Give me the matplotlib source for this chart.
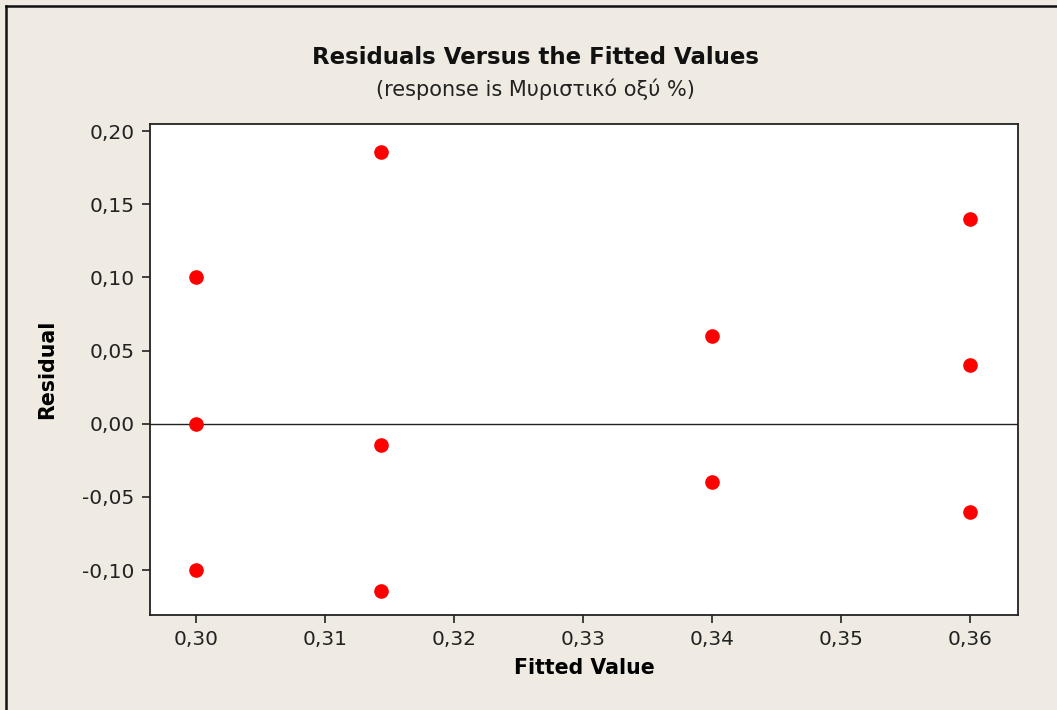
import matplotlib
matplotlib.use("Agg")
import matplotlib.pyplot as plt
from matplotlib.ticker import FixedLocator, FuncFormatter
from matplotlib.lines import Line2D

# fitted values and residuals per group
fitted = [0.30, 0.30, 0.30,
          0.3143, 0.3143, 0.3143,
          0.34, 0.34,
          0.36, 0.36, 0.36]
residual = [0.10, 0.00, -0.10,
            0.1857, -0.0143, -0.1143,
            0.06, -0.04,
            0.14, 0.04, -0.06]

x_ticks = [0.30, 0.31, 0.32, 0.33, 0.34, 0.35, 0.36]
y_ticks = [-0.10, -0.05, 0.00, 0.05, 0.10, 0.15, 0.20]

bg = "#efebe2"

fig = plt.figure(figsize=(10.57, 7.10), dpi=100, facecolor=bg)
ax = fig.add_axes([150 / 1057, 1 - 615 / 710, 868 / 1057, 491 / 710])
ax.set_facecolor("white")

ax.axhline(0, color="#222222", lw=1.0, zorder=1)
ax.plot(fitted, residual, "o", color="#ff0000", ms=9.5, mec="#ff0000", zorder=3)

ax.set_xlim(0.29643, 0.36372)
ax.set_ylim(-0.1307, 0.2048)

comma = FuncFormatter(lambda v, pos: f"{v:.2f}".replace(".", ","))
ax.xaxis.set_major_locator(FixedLocator(x_ticks))
ax.yaxis.set_major_locator(FixedLocator(y_ticks))
ax.xaxis.set_major_formatter(comma)
ax.yaxis.set_major_formatter(comma)

for s in ax.spines.values():
    s.set_color("#222222")
    s.set_linewidth(1.3)
ax.tick_params(direction="out", length=6, width=1.2, color="#222222",
               labelsize=14.5, labelcolor="#222222", pad=5)

ax.set_xlabel("Fitted Value", fontsize=14.8, fontweight="bold", labelpad=6)
ax.set_ylabel("Residual", fontsize=14.8, fontweight="bold", labelpad=18)

fig.text(535 / 1057, 1 - 57 / 710, "Residuals Versus the Fitted Values",
         ha="center", va="center", fontsize=16.5, fontweight="bold", color="#111111")
fig.text(535 / 1057, 1 - 89 / 710, "(response is Μυριστικό οξύ %)",
         ha="center", va="center", fontsize=15, color="#222222")

# window frame on the top and left edges
fig.add_artist(Line2D([5.5 / 1057, 5.5 / 1057], [0, 1 - 6 / 710],
                      transform=fig.transFigure, color="#111111", lw=1.8))
fig.add_artist(Line2D([5.5 / 1057, 1], [1 - 6 / 710, 1 - 6 / 710],
                      transform=fig.transFigure, color="#111111", lw=1.8))

fig.savefig("out.png", dpi=100, facecolor=bg)
